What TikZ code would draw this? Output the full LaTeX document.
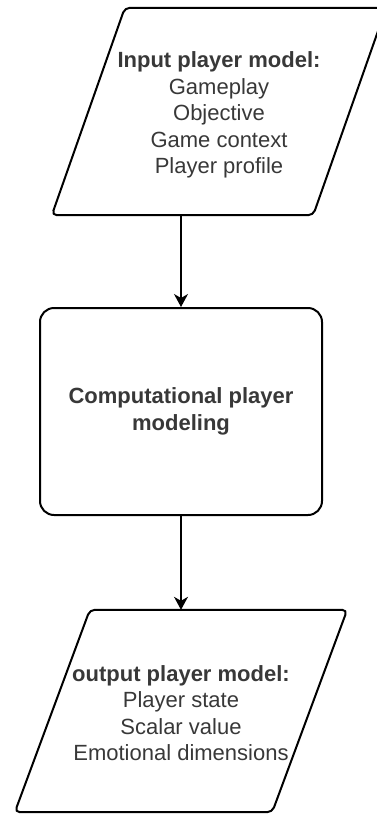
\documentclass[tikz,border=0pt]{standalone}
\usepackage{fontspec}
\setmainfont{Liberation Sans}
\usetikzlibrary{arrows.meta}

\definecolor{txt}{gray}{0.22}

\begin{document}
\begin{tikzpicture}[x=1pt,y=-1pt,
  font=\fontsize{22}{26.5}\selectfont,
  % text area of a data block; its outline is drawn separately
  iotext/.style={rectangle, align=center, inner sep=0pt, text=txt},
  ioline/.style={draw, line width=2pt, rounded corners=5pt},
  proc/.style={rectangle, draw, line width=2pt, rounded corners=14pt,
    align=center, inner sep=0pt, text=txt,
    minimum width=282pt, minimum height=207pt},
  flow/.style={line width=1.2pt,
    -{Stealth[length=13pt,width=14pt,inset=4pt]}}
]
\useasboundingbox (0,0) rectangle (377,814);

% input data: parallelogram 334 x 207, slant 73 (runs past the right margin)
\node[iotext, minimum width=334pt, minimum height=207pt] (in) at (219,115)
  {\textbf{Input player model:}\\Gameplay\\Objective\\Game context\\Player profile};
\coordinate (inSW) at ([yshift=3.5pt]in.south west);
\coordinate (inNW) at ([xshift=73pt,yshift=3.5pt]in.north west);
\coordinate (inNE) at ([yshift=3.5pt]in.north east);
\coordinate (inSE) at ([xshift=-73pt,yshift=3.5pt]in.south east);
\coordinate (inB)  at ([yshift=3.5pt]in.south);
\path[ioline] (inSW) -- (inNW) -- (inNE) -- (inSE) -- cycle;

% processing step
\node[proc, font=\fontsize{22}{27.5}\selectfont] (box) at (181,411.5)
  {\textbf{Computational player}\\\textbf{modeling}};

% output data: parallelogram 332 x 202, slant 75
\node[iotext, minimum width=332pt, minimum height=202pt] (out) at (181,713)
  {\textbf{output player model:}\\Player state\\Scalar value\\Emotional dimensions};
\coordinate (outSW) at ([yshift=2pt]out.south west);
\coordinate (outNW) at ([xshift=75pt,yshift=2pt]out.north west);
\coordinate (outNE) at ([yshift=2pt]out.north east);
\coordinate (outSE) at ([xshift=-75pt,yshift=2pt]out.south east);
\coordinate (outT)  at ([yshift=2pt]out.north);
\path[ioline] (outSW) -- (outNW) -- (outNE) -- (outSE) -- cycle;

% flow arrows
\draw[flow] (box.north |- inB) -- (box.north);
\draw[flow] (box.south) -- (box.south |- outT);
\end{tikzpicture}
\end{document}
